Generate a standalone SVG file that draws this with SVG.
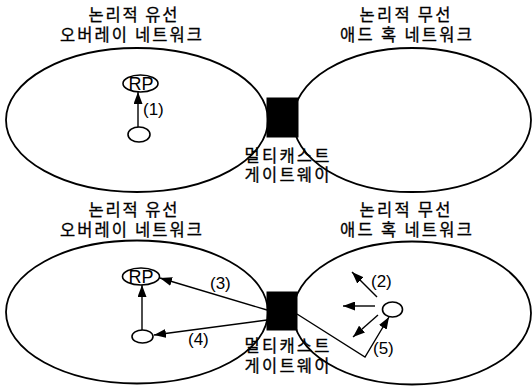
<svg xmlns="http://www.w3.org/2000/svg" width="532" height="389" viewBox="0 0 532 389">
<defs>
<style>
.net{fill:none;stroke:#000;stroke-width:1.8}
.gw{fill:#000;stroke:#000;stroke-width:1}
.node{fill:#fff;stroke:#000;stroke-width:1.6}
.ln{fill:none;stroke:#000;stroke-width:1.4}
.ko{font-family:"Noto Sans CJK KR","Noto Sans",sans-serif;font-size:16.5px;fill:#000;stroke:#000;stroke-width:0.3;text-anchor:middle}
.lb{font-family:"Liberation Sans",Arial,sans-serif;font-size:17px;fill:#000}
.rp{font-family:"Liberation Sans",Arial,sans-serif;font-size:18px;fill:#000;text-anchor:middle}
</style>
<marker id="ah" markerUnits="userSpaceOnUse" markerWidth="12" markerHeight="9" refX="12" refY="4.5" orient="auto">
<path d="M0,0 L12,4.5 L0,9 z" fill="#000"/>
</marker>
</defs>
<rect width="532" height="389" fill="#fff"/>

<!-- top half -->
<g id="wired-top">
<ellipse class="net" cx="137" cy="120" rx="131" ry="72"/>
<text class="ko" x="133" y="21" textLength="89" lengthAdjust="spacing">논리적 유선</text>
<text class="ko" x="131" y="41" textLength="142" lengthAdjust="spacing">오버레이 네트워크</text>
</g>
<g id="wireless-top">
<ellipse class="net" cx="412" cy="120" rx="119" ry="72"/>
<text class="ko" x="405" y="21" textLength="91" lengthAdjust="spacing">논리적 무선</text>
<text class="ko" x="406" y="41" textLength="132" lengthAdjust="spacing">애드 혹 네트워크</text>
</g>
<g id="rp-top">
<ellipse class="node" cx="140.5" cy="83.5" rx="17.5" ry="8.5"/>
<text class="rp" x="141" y="90">RP</text>
</g>
<g id="host-top">
<ellipse class="node" cx="139" cy="134.5" rx="11" ry="7.5"/>
</g>
<g id="gateway-top">
<rect class="gw" x="267" y="98" width="31" height="39"/>
<text class="ko" x="287" y="162" textLength="85" lengthAdjust="spacing">멀티캐스트</text>
<text class="ko" x="287" y="181" textLength="85" lengthAdjust="spacing">게이트웨이</text>
</g>

<!-- bottom half -->
<g id="wired-bottom">
<ellipse class="net" cx="137" cy="312" rx="131" ry="71.5"/>
<text class="ko" x="133" y="216" textLength="89" lengthAdjust="spacing">논리적 유선</text>
<text class="ko" x="131" y="236" textLength="142" lengthAdjust="spacing">오버레이 네트워크</text>
</g>
<g id="wireless-bottom">
<ellipse class="net" cx="412" cy="313" rx="119" ry="71.5"/>
<text class="ko" x="405" y="216" textLength="91" lengthAdjust="spacing">논리적 무선</text>
<text class="ko" x="406" y="236" textLength="132" lengthAdjust="spacing">애드 혹 네트워크</text>
</g>
<g id="rp-bottom">
<ellipse class="node" cx="141" cy="276.5" rx="18.5" ry="8.5"/>
<text class="rp" x="141" y="283">RP</text>
</g>
<g id="host-bottom">
<ellipse class="node" cx="142.5" cy="336.5" rx="10.5" ry="6.5"/>
</g>
<g id="mobile-bottom">
<ellipse class="node" cx="392.5" cy="309.5" rx="10" ry="7.5"/>
</g>
<g id="gateway-bottom">
<rect class="gw" x="267" y="292" width="30" height="38"/>
<text class="ko" x="287" y="352" textLength="85" lengthAdjust="spacing">멀티캐스트</text>
<text class="ko" x="287" y="372" textLength="85" lengthAdjust="spacing">게이트웨이</text>
</g>

<g id="connectors">
<line class="ln" x1="138" y1="127" x2="138" y2="92" marker-end="url(#ah)"/>
<text class="lb" x="143" y="115">(1)</text>

<line class="ln" x1="142" y1="330" x2="142" y2="285" marker-end="url(#ah)"/>
<line class="ln" x1="267" y1="310" x2="160" y2="278" marker-end="url(#ah)"/>
<text class="lb" x="210" y="289">(3)</text>
<line class="ln" x1="267" y1="320" x2="154" y2="335" marker-end="url(#ah)"/>
<text class="lb" x="188" y="345">(4)</text>

<line class="ln" x1="377" y1="297" x2="352" y2="272" marker-end="url(#ah)"/>
<line class="ln" x1="375" y1="306" x2="343" y2="306" marker-end="url(#ah)"/>
<line class="ln" x1="378" y1="315" x2="353" y2="337" marker-end="url(#ah)"/>
<text class="lb" x="371" y="287">(2)</text>

<polyline class="ln" points="297,314 365,357 389,317" marker-end="url(#ah)"/>
<text class="lb" x="373" y="354">(5)</text>
</g>
</svg>
